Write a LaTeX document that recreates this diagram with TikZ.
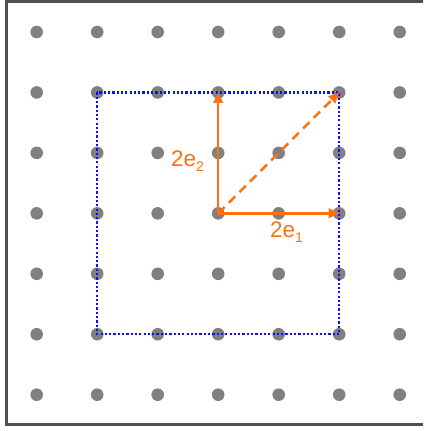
\documentclass[tikz,border=0pt]{standalone}
\usepackage{fontspec}
\setmainfont{Liberation Sans}
\usetikzlibrary{arrows.meta}
\definecolor{dotgray}{RGB}{128,128,128}
\definecolor{framegray}{RGB}{80,80,80}
\definecolor{vecorange}{RGB}{255,112,16}
\definecolor{sqblue}{RGB}{15,15,240}
\tikzset{
  dotnode/.style={circle,fill=dotgray,draw=none,minimum size=12.6pt,inner sep=0pt},
  vecarrow/.style={draw=vecorange,line width=2.5pt,-{Triangle[length=10.5pt,width=9.5pt]}},
  boxline/.style={draw=sqblue,line width=2.2pt,dash pattern=on 2.2pt off 2.1pt},
  veclabel/.style={text=vecorange,anchor=base west,inner sep=0pt,font=\fontsize{22.5}{22.5}\selectfont}
}
\newcommand{\vsub}[1]{\raisebox{-5pt}{\fontsize{14}{14}\selectfont #1}}
\begin{document}
\begin{tikzpicture}[x=1pt,y=-1pt]
\useasboundingbox (0,0) rectangle (423,431);
\begin{scope}
\clip (0,0) rectangle (423,431);
\draw[framegray,line width=3.5pt] (440,1.7) -- (6.3,1.7) -- (6.3,424.3) -- (440,424.3);
\end{scope}
\foreach \i in {0,...,6}{
  \foreach \j in {0,...,6}{
    \node[dotnode] (d\i\j) at ({36.7+60.5*\i},{32+60.45*\j}) {};
  }
}
\draw[boxline] (d11.center) rectangle (d55.center);
\draw[vecarrow] (d33.center) -- (d53.center);
\draw[vecarrow] (d33.center) -- (d31.center);
\draw[vecarrow,dash pattern=on 9pt off 6pt] (d33.center) -- (d51.center);
\node[veclabel] (l2) at (171,166) {2e\vsub{2}};
\node[veclabel] (l1) at (270,237) {2e\vsub{1}};
\end{tikzpicture}
\end{document}
